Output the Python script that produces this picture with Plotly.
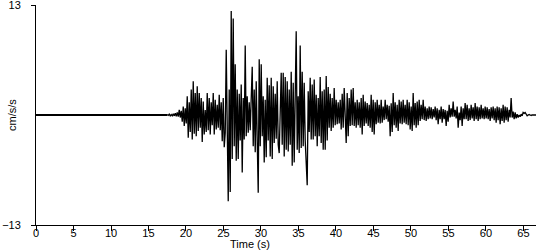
import numpy as np
import plotly.graph_objects as go

# quiet pre-event part
quiet_t = [0.0, 17.5]
quiet_v = [0.0, 0.0]

# sampled record (one sample per ~0.133 s) from 17.5 s on
t_start = 17.5
dt = 0.1333
accel = [
    0.05,-0.05,0.1,-0.1,0.05,-0.1,0.15,-0.1,0.2,-0.15,
    0.3,-0.2,0.6,-0.3,0.5,-0.8,1.0,-1.3,0.8,-1.0,
    2.2,-2.7,1.5,-2.0,3.0,-2.9,4.0,-2.2,2.6,-2.5,
    3.4,-1.9,2.6,-1.5,2.0,-3.2,1.6,-2.3,0.6,-2.0,
    2.6,-1.8,2.0,-2.3,1.5,-1.2,2.6,-2.3,1.8,-1.7,
    1.2,-1.5,2.4,-1.8,1.5,-3.1,2.0,-3.8,-2.1,7.7,
    -1.5,-10.2,3.0,-9.1,12.3,-5.2,11.4,-3.7,6.0,-5.4,
    3.0,-5.2,2.5,-3.0,3.6,-6.8,2.0,-2.9,8.2,-2.5,
    2.2,-2.1,1.5,-1.8,2.0,5.7,-3.7,3.0,-4.4,4.0,
    -3.0,-9.2,6.6,-3.7,6.0,-2.5,2.2,-5.6,1.8,-5.0,
    4.4,-3.0,3.5,-4.9,4.4,-5.2,3.4,-3.3,2.5,-2.8,
    4.0,-3.5,-4.5,3.0,5.0,-3.5,5.0,-4.9,4.5,-4.1,
    4.0,-4.3,3.0,-3.5,5.1,-6.0,3.8,-5.6,2.5,9.9,
    -4.1,2.2,-4.5,8.2,-3.9,5.1,-3.7,3.8,-3.0,-6.4,
    -8.3,2.8,-2.0,4.4,-2.9,3.6,-2.9,4.2,-2.5,2.4,
    -3.7,2.0,-2.5,4.5,-3.3,2.8,-4.1,3.0,-4.1,4.6,
    -3.0,3.3,-1.5,2.5,-1.9,2.0,-1.5,3.2,-1.2,1.8,
    -1.1,1.5,-1.0,1.8,-1.7,2.5,-1.5,3.2,-1.7,-3.3,
    2.6,-2.5,2.0,-1.3,3.0,-1.2,3.2,-1.3,1.5,-1.5,
    1.8,-1.2,1.5,-1.5,2.0,-2.3,2.4,-1.3,1.6,-1.0,
    1.4,-1.3,1.2,-1.5,2.4,-2.0,1.8,-2.3,1.5,-1.1,
    1.8,-0.9,1.2,-1.0,1.8,-0.9,1.0,-0.6,1.8,-0.5,
    1.2,-0.8,1.1,-2.5,1.4,-2.0,2.6,-1.2,1.5,-1.5,
    1.2,-1.9,1.8,-1.0,1.6,-1.1,1.8,-0.9,1.2,-1.1,
    1.8,-1.2,1.5,-1.7,1.0,-1.9,2.6,-1.2,1.4,-1.5,
    1.6,-1.2,1.8,-0.7,1.2,-0.5,1.8,-0.6,1.0,-0.7,
    0.8,-0.5,1.0,-0.4,0.9,-0.5,0.7,-0.3,1.0,-0.6,
    0.8,-1.1,0.6,-0.5,1.0,-0.9,0.7,-0.5,0.6,-1.3,
    0.5,-0.8,1.2,-0.3,0.8,-0.2,1.6,-0.2,0.6,-0.4,
    1.0,-1.5,0.3,-0.6,1.0,-1.3,0.8,-0.5,1.4,-0.5,
    1.2,-0.7,0.8,-0.6,1.2,-0.4,0.9,-0.7,1.4,-0.5,
    1.0,-0.7,0.9,-0.5,1.2,-0.4,0.8,-0.5,1.0,-0.4,
    0.9,-0.5,0.7,-0.7,0.9,-0.4,1.0,-0.6,0.8,-0.9,
    1.0,-0.6,0.9,-1.1,0.8,-0.7,1.2,-0.9,1.0,-0.6,
    0.9,-0.8,0.6,-0.3,2.0,-0.3,0.4,-0.5,0.3,-0.4,
    0.1,-0.3,0.0,-0.2,0.1,-0.1,0.3,0.2,0.3,0.0,
    -0.1,0.0,0.05,0.0,-0.05,0.0,0.0,0.0,0.0,0.0,
]
times = t_start + dt * np.arange(len(accel))

x_ticks = [0, 5, 10, 15, 20, 25, 30, 35, 40, 45, 50, 55, 60, 65]
y_ticks = [-13, 13]

font = dict(family="Liberation Sans, Arial, sans-serif", size=11, color="black")
tick_font = dict(family="Liberation Sans, Arial, sans-serif", size=11, color="black")

fig = go.Figure()
fig.add_trace(go.Scatter(x=quiet_t, y=quiet_v, mode="lines",
                         line=dict(color="black", width=2), hoverinfo="skip"))
fig.add_trace(go.Scatter(x=times, y=accel, mode="lines",
                         line=dict(color="black", width=1.3)))

fig.update_layout(
    width=550, height=250,
    margin=dict(l=36, r=14, t=5, b=25),
    paper_bgcolor="white", plot_bgcolor="white",
    showlegend=False, font=font,
    xaxis=dict(range=[0, 66.67], tickvals=x_ticks, ticks="outside", ticklen=5,
               tickcolor="black", showline=True, linecolor="black", linewidth=1,
               showgrid=False, zeroline=False, tickfont=tick_font, automargin=False,
               ticklabelstandoff=-7, ticklabeloverflow="allow"),
    yaxis=dict(range=[-13, 13], tickvals=y_ticks, ticks="outside", ticklen=4,
               tickcolor="black", showline=True, linecolor="black", linewidth=1,
               showgrid=False, zeroline=False, tickfont=tick_font, automargin=False,
               ticklabelstandoff=8, ticklabeloverflow="allow"),
    annotations=[
        dict(text="Time (s)", xref="paper", yref="paper", x=0.428, y=-0.086,
             xanchor="center", yanchor="middle", showarrow=False, font=font),
        dict(text="cm/s/s", xref="paper", yref="paper", x=-0.048, y=0.5,
             xanchor="center", yanchor="middle", showarrow=False, font=font,
             textangle=-90),
    ],
)

fig.write_html("out.html")
